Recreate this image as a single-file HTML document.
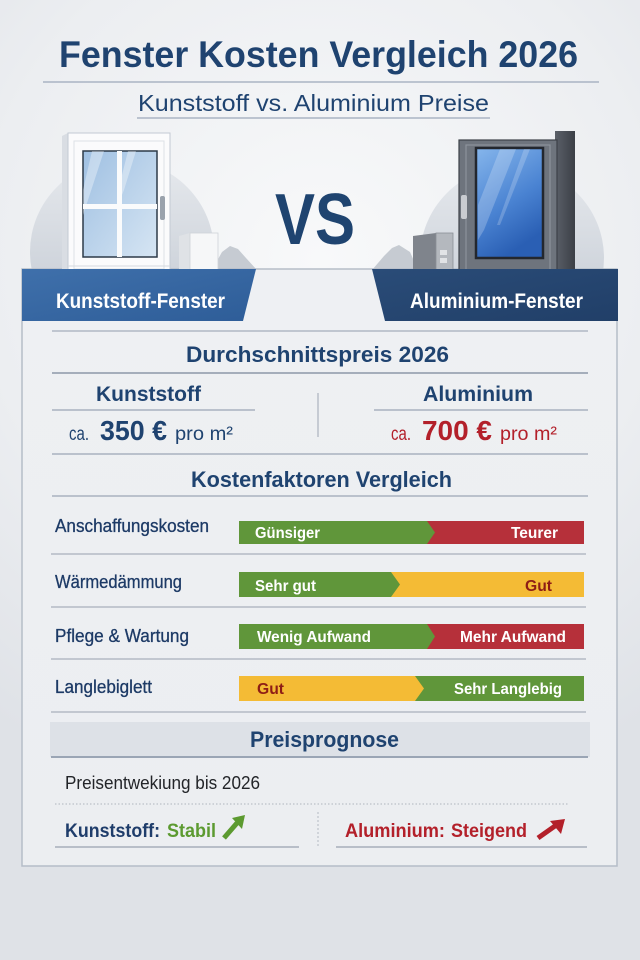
<!DOCTYPE html>
<html><head><meta charset="utf-8"><style>
html,body{margin:0;padding:0;width:640px;height:960px;overflow:hidden;background:#e9ebef;}
svg{display:block;font-family:"Liberation Sans",sans-serif;}
</style></head><body>
<svg width="640" height="960" viewBox="0 0 640 960" xmlns="http://www.w3.org/2000/svg">
<defs>
<radialGradient id="bg" cx="320" cy="260" r="560" gradientUnits="userSpaceOnUse">
<stop offset="0" stop-color="#f8f9fa"/><stop offset="0.6" stop-color="#eceef1"/><stop offset="1" stop-color="#dfe2e7"/></radialGradient>
<linearGradient id="circ" x1="0" y1="0" x2="0" y2="1"><stop offset="0" stop-color="#e6e9ed"/><stop offset="1" stop-color="#bfc6d0"/></linearGradient>
<linearGradient id="bl" x1="0" y1="0" x2="1" y2="1"><stop offset="0" stop-color="#3f70ab"/><stop offset="1" stop-color="#2e5d98"/></linearGradient>
<linearGradient id="br" x1="0" y1="0" x2="1" y2="1"><stop offset="0" stop-color="#2a4c78"/><stop offset="1" stop-color="#213f68"/></linearGradient>
<linearGradient id="glassL" x1="0" y1="0" x2="1" y2="1"><stop offset="0" stop-color="#9fc0e2"/><stop offset="1" stop-color="#d6e5f3"/></linearGradient>
<linearGradient id="glassR" x1="0" y1="0" x2="0.4" y2="1"><stop offset="0" stop-color="#86b6ec"/><stop offset="0.6" stop-color="#4a83d2"/><stop offset="1" stop-color="#2a5fb4"/></linearGradient>
<linearGradient id="alside" x1="0" y1="0" x2="1" y2="0"><stop offset="0" stop-color="#5b6069"/><stop offset="1" stop-color="#3b3f46"/></linearGradient>
<linearGradient id="panel" x1="0" y1="0" x2="0" y2="1"><stop offset="0" stop-color="#eef0f3"/><stop offset="1" stop-color="#eceef1"/></linearGradient>
</defs>
<rect width="640" height="960" fill="url(#bg)"/>

<!-- Title -->
<text x="59" y="67" font-size="37" font-weight="bold" fill="#1f4370" textLength="519" lengthAdjust="spacingAndGlyphs">Fenster Kosten Vergleich 2026</text>
<line x1="43" y1="82" x2="599" y2="82" stroke="#aab4c3" stroke-width="1.5"/>
<text x="138" y="111" font-size="23" fill="#1f4370" textLength="351" lengthAdjust="spacingAndGlyphs">Kunststoff vs. Aluminium Preise</text>
<line x1="137" y1="118" x2="490" y2="118" stroke="#aab4c3" stroke-width="1.5"/>

<!-- circles -->
<circle cx="122" cy="252" r="92" fill="url(#circ)"/>
<circle cx="512" cy="258" r="92" fill="url(#circ)"/>
<!-- mountains -->
<polygon points="212,270 222,252 230,246 238,249 246,258 257,270" fill="#c6cbd2"/>
<polygon points="372,270 384,256 392,248 399,245 410,252 418,270" fill="#c6cbd2"/>

<!-- panel -->
<rect x="22" y="269" width="595" height="597" fill="url(#panel)" stroke="#b5bdc8" stroke-width="1.5"/>

<!-- VS -->
<text x="275" y="244" font-size="72" font-weight="bold" fill="#1f4470" textLength="80" lengthAdjust="spacingAndGlyphs">VS</text>

<!-- Left PVC window -->
<polygon points="62,136 68,133 68,277 62,273" fill="#d9dde3"/>
<rect x="68" y="133" width="102" height="144" fill="#fbfbfc" stroke="#c3cad3" stroke-width="1"/>
<rect x="74" y="141" width="90" height="128" fill="none" stroke="#dde1e6" stroke-width="1"/>
<rect x="83" y="151" width="74" height="106" fill="url(#glassL)" stroke="#2d3a48" stroke-width="1.5"/>
<polygon points="92,151 104,151 88,200 83,215 83,190" fill="#ffffff" opacity="0.35"/>
<polygon points="128,151 136,151 124,190 122,195 122,175" fill="#ffffff" opacity="0.35"/>
<rect x="117" y="151" width="5" height="106" fill="#fafbfc"/>
<rect x="83" y="204" width="74" height="5" fill="#fafbfc"/>
<rect x="160" y="196" width="5" height="24" rx="2" fill="#9aa2ac"/>
<line x1="68" y1="266" x2="170" y2="266" stroke="#d5dae0" stroke-width="1"/>
<!-- white profile box -->
<polygon points="179,236 190,233 190,283 179,279" fill="#dfe2e6"/>
<rect x="190" y="233" width="28" height="50" fill="#f6f7f8" stroke="#cfd3d8" stroke-width="0.8"/>

<!-- Right Al window -->
<polygon points="555,131 575,131 575,283 555,277" fill="url(#alside)"/>
<rect x="459" y="140" width="98" height="137" fill="#6e747d" stroke="#3d4148" stroke-width="1.2"/>
<rect x="466" y="145" width="84" height="125" fill="none" stroke="#8d939b" stroke-width="1.2"/>
<rect x="476" y="148" width="67" height="110" fill="url(#glassR)" stroke="#23272e" stroke-width="2.5"/>
<polygon points="500,149 516,149 484,230 478,240 478,205" fill="#ffffff" opacity="0.22"/>
<polygon points="524,149 530,149 500,225 497,225" fill="#ffffff" opacity="0.2"/>
<rect x="461" y="195" width="6" height="24" rx="2" fill="#c9ccd1"/>
<!-- gray profile box -->
<polygon points="413,236 436,233 436,283 413,281" fill="#7f848c"/>
<rect x="436" y="233" width="17" height="50" fill="#b4b8be" stroke="#8a8f96" stroke-width="0.8"/>
<rect x="440" y="250" width="7" height="5" fill="#e1e3e6"/>
<rect x="440" y="258" width="7" height="5" fill="#e1e3e6"/>

<!-- banners -->
<polygon points="22,269 256,269 243,321 22,321" fill="url(#bl)"/>
<polygon points="372,269 618,269 618,321 385,321" fill="url(#br)"/>
<text x="56" y="308" font-size="21" font-weight="bold" fill="#ffffff" textLength="169" lengthAdjust="spacingAndGlyphs">Kunststoff-Fenster</text>
<text x="410" y="308" font-size="21" font-weight="bold" fill="#ffffff" textLength="173" lengthAdjust="spacingAndGlyphs">Aluminium-Fenster</text>

<!-- Durchschnittspreis -->
<line x1="52" y1="331" x2="588" y2="331" stroke="#b0b8c4" stroke-width="1.5"/>
<text x="186" y="362" font-size="22" font-weight="bold" fill="#1f4370" textLength="263" lengthAdjust="spacingAndGlyphs">Durchschnittspreis 2026</text>
<line x1="52" y1="373" x2="588" y2="373" stroke="#a5aebb" stroke-width="2"/>
<text x="96" y="401" font-size="21" font-weight="bold" fill="#1f4370" textLength="105" lengthAdjust="spacingAndGlyphs">Kunststoff</text>
<text x="423" y="401" font-size="21" font-weight="bold" fill="#1f4370" textLength="110" lengthAdjust="spacingAndGlyphs">Aluminium</text>
<line x1="52" y1="410" x2="255" y2="410" stroke="#a9b2bf" stroke-width="1.5"/>
<line x1="374" y1="410" x2="588" y2="410" stroke="#a9b2bf" stroke-width="1.5"/>
<line x1="318" y1="393" x2="318" y2="437" stroke="#b8bfc9" stroke-width="1.5"/>
<text x="69" y="440" font-size="19" fill="#1f4370" textLength="20" lengthAdjust="spacingAndGlyphs">ca.</text>
<text x="100" y="440" font-size="28" font-weight="bold" fill="#1f4370" textLength="67" lengthAdjust="spacingAndGlyphs">350 €</text>
<text x="175" y="440" font-size="19" fill="#1f4370" textLength="58" lengthAdjust="spacingAndGlyphs">pro m²</text>
<text x="391" y="440" font-size="19" fill="#b3202a" textLength="20" lengthAdjust="spacingAndGlyphs">ca.</text>
<text x="422" y="440" font-size="28" font-weight="bold" fill="#b3202a" textLength="70" lengthAdjust="spacingAndGlyphs">700 €</text>
<text x="500" y="440" font-size="19" fill="#b3202a" textLength="57" lengthAdjust="spacingAndGlyphs">pro m²</text>
<line x1="52" y1="454" x2="588" y2="454" stroke="#a9b2bf" stroke-width="1.5"/>
<text x="191" y="487" font-size="22" font-weight="bold" fill="#1f4370" textLength="261" lengthAdjust="spacingAndGlyphs">Kostenfaktoren Vergleich</text>
<line x1="52" y1="496" x2="588" y2="496" stroke="#a9b2bf" stroke-width="1.5"/>

<!-- rows -->
<g font-size="18" fill="#1d3a66" stroke="#1d3a66" stroke-width="0.3">
<text x="55" y="532" textLength="154" lengthAdjust="spacingAndGlyphs">Anschaffungskosten</text>
<text x="55" y="588" textLength="127" lengthAdjust="spacingAndGlyphs">Wärmedämmung</text>
<text x="55" y="642" textLength="134" lengthAdjust="spacingAndGlyphs">Pflege &amp; Wartung</text>
<text x="55" y="693" textLength="97" lengthAdjust="spacingAndGlyphs">Langlebiglett</text>
</g>

<!-- bar 1 -->
<rect x="239" y="521" width="345" height="23" fill="#b6303a"/>
<polygon points="239,521 427,521 435,532.5 427,544 239,544" fill="#60963a"/>
<!-- bar 2 -->
<rect x="239" y="572" width="345" height="25" fill="#f4bb35"/>
<polygon points="239,572 391,572 400,584.5 391,597 239,597" fill="#60963a"/>
<!-- bar 3 -->
<rect x="239" y="624" width="345" height="25" fill="#b6303a"/>
<polygon points="239,624 427,624 435,636.5 427,649 239,649" fill="#60963a"/>
<!-- bar 4 -->
<rect x="239" y="676" width="345" height="25" fill="#60963a"/>
<polygon points="239,676 415,676 424,688.5 415,701 239,701" fill="#f4bb35"/>

<g font-size="16" font-weight="bold" fill="#ffffff">
<text x="255" y="538" textLength="65" lengthAdjust="spacingAndGlyphs">Günsiger</text>
<text x="511" y="538" textLength="47" lengthAdjust="spacingAndGlyphs">Teurer</text>
<text x="255" y="591" textLength="61" lengthAdjust="spacingAndGlyphs">Sehr gut</text>
<text x="525" y="591" textLength="27" lengthAdjust="spacingAndGlyphs" fill="#8e1d15">Gut</text>
<text x="257" y="642" textLength="114" lengthAdjust="spacingAndGlyphs">Wenig Aufwand</text>
<text x="460" y="642" textLength="106" lengthAdjust="spacingAndGlyphs">Mehr Aufwand</text>
<text x="257" y="694" textLength="27" lengthAdjust="spacingAndGlyphs" fill="#8e1d15">Gut</text>
<text x="454" y="694" textLength="108" lengthAdjust="spacingAndGlyphs">Sehr Langlebig</text>
</g>

<g stroke="#b3bac5" stroke-width="1.5">
<line x1="51" y1="554" x2="586" y2="554"/>
<line x1="51" y1="607" x2="586" y2="607"/>
<line x1="51" y1="659" x2="586" y2="659"/>
<line x1="51" y1="712" x2="586" y2="712"/>
</g>

<!-- Preisprognose -->
<rect x="50" y="722" width="540" height="35" fill="#dde1e7"/>
<line x1="51" y1="757" x2="588" y2="757" stroke="#9aa5b5" stroke-width="2"/>
<text x="250" y="747" font-size="22" font-weight="bold" fill="#1f4370" textLength="149" lengthAdjust="spacingAndGlyphs">Preisprognose</text>
<text x="65" y="789" font-size="18" fill="#222428" textLength="195" lengthAdjust="spacingAndGlyphs">Preisentwekiung bis 2026</text>
<line x1="55" y1="804" x2="569" y2="804" stroke="#aeb4bd" stroke-width="1" stroke-dasharray="1.5,2"/>
<line x1="318" y1="812" x2="318" y2="848" stroke="#b4bac3" stroke-width="1" stroke-dasharray="2,2"/>

<text x="65" y="837" font-size="19" font-weight="bold" fill="#1f3d6b" textLength="95" lengthAdjust="spacingAndGlyphs">Kunststoff:</text>
<text x="167" y="837" font-size="19" font-weight="bold" fill="#5c9a30" textLength="49" lengthAdjust="spacingAndGlyphs">Stabil</text>
<line x1="224" y1="838" x2="237" y2="823" stroke="#5c9a30" stroke-width="5"/>
<polygon points="245,815 232,818 242,829" fill="#5c9a30"/>

<text x="345" y="837" font-size="19" font-weight="bold" fill="#b3202a" textLength="100" lengthAdjust="spacingAndGlyphs">Aluminium:</text>
<text x="451" y="837" font-size="19" font-weight="bold" fill="#b3202a" textLength="76" lengthAdjust="spacingAndGlyphs">Steigend</text>
<line x1="538" y1="838" x2="555" y2="826" stroke="#b3202a" stroke-width="5"/>
<polygon points="565,819 550,821 561,834" fill="#b3202a"/>

<line x1="55" y1="847" x2="299" y2="847" stroke="#b8bec8" stroke-width="2"/>
<line x1="336" y1="847" x2="587" y2="847" stroke="#b8bec8" stroke-width="2"/>
</svg>
</body></html>
